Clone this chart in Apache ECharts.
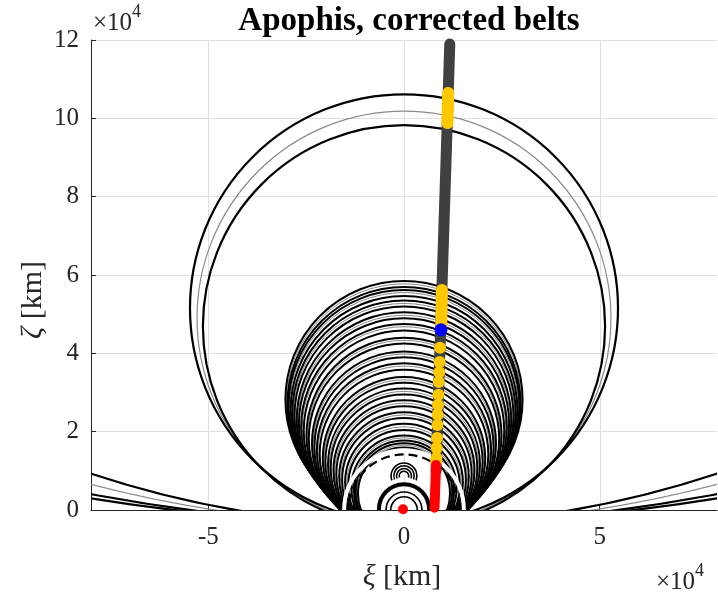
<!DOCTYPE html>
<html>
<head>
<meta charset="utf-8">
<title>Apophis, corrected belts</title>
<script src="https://cdn.jsdelivr.net/npm/echarts@6/dist/echarts.min.js"></script>
<style>
  html, body { margin: 0; padding: 0; background: #ffffff; }
  #chart { width: 718px; height: 602px; }
</style>
</head>
<body>
<div id="chart"></div>
<script>
// ---- Axis ticks (km) ----
const xiTicks = [-50000, 0, 50000];
const zetaMin = 0, zetaMax = 120000, zetaStep = 20000;
const xiMin = -80000, xiMax = 80000;

// ---- Central resonance family: circle centres on the zeta axis and radii (km) ----
// boundary circles of each belt are black, the nominal circle is grey
const familyBlackCenter = [
  28200, 27200, 26700, 25700, 25000, 24000, 23100, 22100, 21200, 20200,
  19100, 18200, 17000, 16100, 15200, 14300, 13200, 12400, 11600, 10800,
  10000, 9200, 8400, 7700, 7000, 6200, 5600, 5000, 4700, 4200
];
const familyBlackRadius = [
  30310, 29780, 29490, 28960, 28520, 27980, 27420, 26860, 26290, 25630,
  24930, 24330, 23520, 22900, 22270, 21550, 20760, 20100, 19420, 18730,
  18020, 17300, 16570, 15820, 15050, 14260, 13450, 12780, 12330, 11760
];
const familyGreyCenter = [
  27700, 26300, 24500, 22600, 20800, 18700, 16600, 14800, 12800, 11200,
  9600, 8100, 6600, 5300, 4500
];
const familyGreyRadius = [
  30060, 29240, 28270, 27150, 26020, 24650, 23230, 21980, 20450, 19100,
  17690, 16220, 14680, 13180, 12050
];

// ---- Large belt and the wide outer circles ----
const bigBlackCenter = [51500, 46900, 250000, 419000, 495000];
const bigBlackRadius = [54700, 51400, 253900, 423000, 499000];
const bigGreyCenter = [49000, 314000];
const bigGreyRadius = [52900, 318000];

// ---- Inner structures near the origin ----
const clearCenter = [0];
const clearRadius = [15300];
const dashedCenter = [0];
const dashedRadius = [14200];
const thickCenter = [200];
const thickRadius = [6400];
const ringCenter = [8700, 8700, 8700, 8700];
const ringRadius = [3300, 2600, 1900, 1200];
const innerArcCenter = [0, 0];
const innerArcRadius = [4600, 3400];

// ---- Trajectory of the close approaches (xi, zeta in km) ----
const greyTrack = [[8200, 10000], [11700, 119000]];
const yellowTop = [[11100, 98800], [11300, 106500]];
const yellowMid = [[9700, 56200], [9500, 46500]];
const yellowDots = [
  [9200, 41400], [9100, 37800], [9000, 35200], [8900, 32700], [8800, 29400],
  [8700, 26800], [8600, 24300], [8550, 21700], [8450, 18400], [8350, 15800],
  [8300, 13300], [8200, 12300]
];
const redTrack = [[7800, 600], [8200, 11500]];
const redDot = [[-250, 200]];
const blueDot = [[9450, 46000]];

const FONT = '"Liberation Serif", "DejaVu Serif", serif';
const INK = '#262626';
const GRID = '#e0e0e0';

// Circles (or arcs) centred on the zeta axis, clipped to the plotting area
function circleSeries(centers, radii, style, z, arc) {
  return {
    type: 'custom',
    coordinateSystem: 'cartesian2d',
    clip: true,
    silent: true,
    z: z,
    data: centers.map((c, i) => [0, c, radii[i]]),
    encode: { x: 0, y: 1 },
    renderItem: function (params, api) {
      const p = api.coord([api.value(0), api.value(1)]);
      const r = api.size([api.value(2), 0])[0];
      const cs = params.coordSys;
      const shape = arc
        ? { type: 'arc', shape: { cx: p[0], cy: p[1], r: r, startAngle: Math.PI - arc, endAngle: 2 * Math.PI + arc, clockwise: true } }
        : { type: 'circle', shape: { cx: p[0], cy: p[1], r: r } };
      shape.style = Object.assign({ fill: null }, style);
      return {
        type: 'group',
        clipPath: { type: 'rect', shape: { x: cs.x, y: cs.y, width: cs.width, height: cs.height } },
        children: [shape]
      };
    }
  };
}

// Vertical grid lines at the xi ticks, kept under every mark
const xiGridSeries = {
  type: 'custom',
  coordinateSystem: 'cartesian2d',
  silent: true,
  z: 0,
  data: xiTicks.map(v => [v, zetaMin]),
  encode: { x: 0, y: 1 },
  renderItem: function (params, api) {
    const a = api.coord([api.value(0), zetaMin]);
    const b = api.coord([api.value(0), zetaMax]);
    return {
      type: 'line',
      shape: { x1: Math.round(a[0]) + 0.5, y1: a[1], x2: Math.round(b[0]) + 0.5, y2: b[1] },
      style: { stroke: GRID, lineWidth: 1 }
    };
  }
};

function segment(data, color, width, z) {
  return {
    type: 'line',
    data: data,
    showSymbol: false,
    symbol: 'none',
    clip: false,
    silent: true,
    z: z,
    lineStyle: { color: color, width: width, cap: 'round', opacity: 1 }
  };
}

function dots(data, color, size, z) {
  return {
    type: 'scatter',
    data: data,
    symbol: 'circle',
    symbolSize: size,
    clip: false,
    silent: true,
    z: z,
    itemStyle: { color: color, opacity: 1 }
  };
}

const timesTen = (size, sup) => ({
  a: { fontFamily: FONT, fontSize: size, fill: INK, verticalAlign: 'bottom', lineHeight: size + 8 },
  s: { fontFamily: FONT, fontSize: sup, fill: INK, verticalAlign: 'top', lineHeight: size + 8, padding: [0, 0, Math.round(size * 0.6), 0] }
});

const chart = echarts.init(document.getElementById('chart'), null, { renderer: 'canvas' });

chart.setOption({
  animation: false,
  backgroundColor: '#ffffff',
  grid: { left: 91, right: 1, top: 40, bottom: 92 },
  title: {
    text: 'Apophis, corrected belts',
    left: 404, top: 0, textAlign: 'center',
    textStyle: { fontFamily: FONT, fontSize: 33, fontWeight: 'bold', color: '#000000' }
  },
  xAxis: {
    type: 'value', min: xiMin, max: xiMax,
    axisLine: { show: true, onZero: false, lineStyle: { color: INK, width: 1 } },
    axisTick: { show: true, inside: true, length: 5, customValues: xiTicks, lineStyle: { color: INK } },
    axisLabel: {
      customValues: xiTicks, margin: 15,
      formatter: v => String(Math.round(v / 10000)),
      fontFamily: FONT, fontSize: 25, color: INK
    },
    splitLine: { show: false }
  },
  yAxis: {
    type: 'value', min: zetaMin, max: zetaMax, interval: zetaStep,
    axisLine: { show: true, onZero: false, lineStyle: { color: INK, width: 1 } },
    axisTick: { show: true, inside: true, length: 5, lineStyle: { color: INK } },
    axisLabel: {
      margin: 12,
      formatter: v => String(Math.round(v / 10000)),
      fontFamily: FONT, fontSize: 25, color: INK
    },
    splitLine: { show: true, lineStyle: { color: GRID, width: 1 } }
  },
  graphic: [
    {
      type: 'text', left: 93, top: 3,
      style: { text: '{a|×10}{s|4}', rich: timesTen(25, 18) }
    },
    {
      type: 'text', left: 656, top: 562,
      style: { text: '{a|×10}{s|4}', rich: timesTen(25, 18) }
    },
    {
      type: 'text', x: 402, y: 577,
      style: {
        text: '{g|ξ} [km]', fill: INK, align: 'center', verticalAlign: 'middle',
        font: '30px ' + FONT,
        rich: { g: { fontFamily: FONT, fontSize: 30, fontStyle: 'italic', fill: INK } }
      }
    },
    {
      type: 'text', x: 33, y: 300, rotation: Math.PI / 2,
      style: {
        text: '{g|ζ} [km]', fill: INK, align: 'center', verticalAlign: 'middle',
        font: '30px ' + FONT,
        rich: { g: { fontFamily: FONT, fontSize: 30, fontStyle: 'italic', fill: INK } }
      }
    }
  ],
  series: [
    xiGridSeries,
    circleSeries(familyGreyCenter, familyGreyRadius, { stroke: '#8a8a8a', lineWidth: 1 }, 2),
    circleSeries(familyBlackCenter, familyBlackRadius, { stroke: '#000000', lineWidth: 2 }, 3),
    circleSeries(clearCenter, clearRadius, { stroke: '#ffffff', lineWidth: 4 }, 3.5),
    circleSeries(bigGreyCenter, bigGreyRadius, { stroke: '#8a8a8a', lineWidth: 1.2 }, 4),
    circleSeries(bigBlackCenter, bigBlackRadius, { stroke: '#000000', lineWidth: 2.2 }, 4),
    circleSeries(ringCenter, ringRadius, { stroke: '#000000', lineWidth: 1.6 }, 4, 0.35),
    circleSeries(innerArcCenter, innerArcRadius, { stroke: '#000000', lineWidth: 1.6 }, 4, 0),
    circleSeries(dashedCenter, dashedRadius, { stroke: '#000000', lineWidth: 2.2, lineDash: [9, 5] }, 4),
    circleSeries(thickCenter, thickRadius, { stroke: '#000000', lineWidth: 4 }, 4),
    segment(greyTrack, '#404040', 11, 5),
    segment(yellowTop, '#ffc800', 12, 6),
    segment(yellowMid, '#ffc800', 12, 6),
    dots(yellowDots, '#ffc800', 12, 6),
    segment(redTrack, '#ff0000', 10, 7),
    dots(redDot, '#ff0000', 10, 7),
    dots(blueDot, '#0000ff', 13, 8)
  ]
});
</script>
</body>
</html>
